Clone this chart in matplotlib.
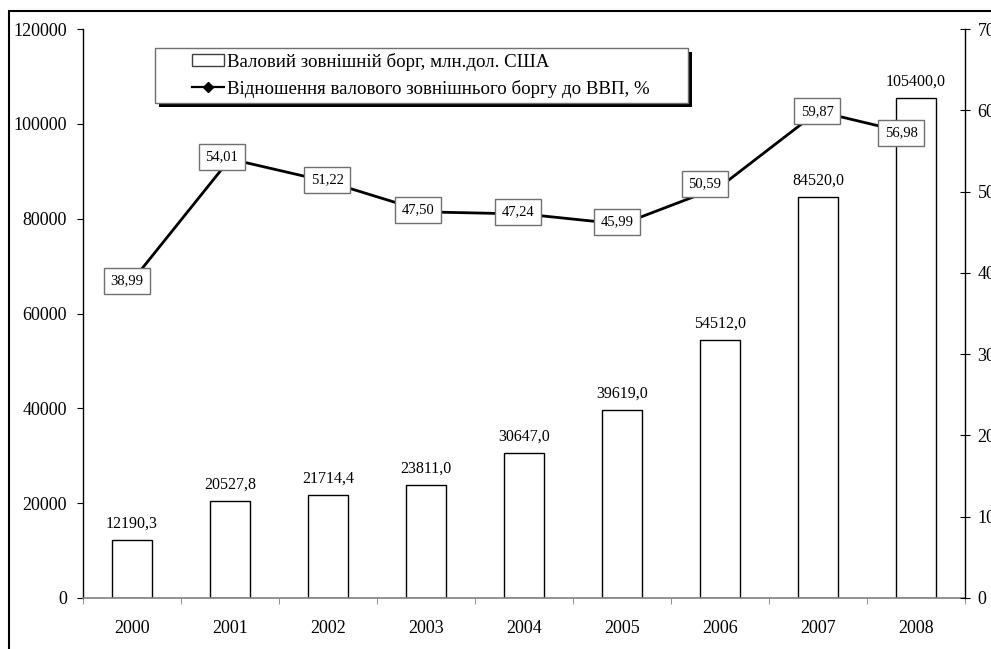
#!/usr/bin/env python

import matplotlib.pyplot as plt
import matplotlib.patches as mpatches
from matplotlib.lines import Line2D
import numpy as np

years = ["2000", "2001", "2002", "2003", "2004", "2005", "2006", "2007", "2008"]
debt = [12190.3, 20527.8, 21714.4, 23811.0, 30647.0, 39619.0, 54512.0, 84520.0, 105400.0]
ratio = [38.99, 54.01, 51.22, 47.50, 47.24, 45.99, 50.59, 59.87, 56.98]

debt_label = "Валовий зовнішній борг, млн.дол. США"
ratio_label = "Відношення валового зовнішнього боргу до ВВП, %"

# label box shifts (pixels) so the boxes sit where they were placed by hand
ratio_shift_x = [-5, -8, -1, -8, -6, -5, -15, -1, -15]
ratio_shift_y = [0, 2, 2, 2, 2, 2, 3, 0, 2]

W, H = 991, 649


def fmt(v, digits):
    return f"{v:.{digits}f}".replace(".", ",")


def px(x, y):
    # pixel position (from top-left) -> figure fraction
    return x / W, 1 - y / H


def main():
    plt.rcParams.update(
        {
            "font.family": ["Liberation Serif", "DejaVu Serif"],
            "font.size": 13,
        }
    )

    fig = plt.figure(figsize=(W / 100, H / 100), dpi=100)
    x0, y0 = px(83, 598)
    x1, y1 = px(965, 29)
    ax = fig.add_axes([x0, y0, x1 - x0, y1 - y0])
    ax2 = ax.twinx()

    x = np.arange(len(years))
    ax.bar(x, debt, width=0.4, color="white", edgecolor="black", linewidth=1.0, zorder=2)
    for xi, v in zip(x, debt):
        ax.annotate(
            fmt(v, 1),
            (xi, v),
            xytext=(0, 6),
            textcoords="offset points",
            ha="center",
            va="bottom",
            fontsize=11.5,
        )

    ax.set_xlim(-0.5, len(years) - 0.5)
    ax.set_ylim(0, 120000)
    ax.set_yticks(np.arange(0, 120001, 20000))
    ax.set_xticks(x)
    ax.set_xticklabels(years)
    ax.set_xticks(np.arange(-0.5, len(years), 1.0), minor=True)
    ax.tick_params(axis="x", which="major", length=0, pad=16)
    ax.tick_params(axis="x", which="minor", length=4.5, direction="out", color="#808080")
    ax.tick_params(axis="y", length=4.5, direction="out", pad=7)

    for s in ["top", "right"]:
        ax.spines[s].set_visible(False)
    ax.spines["bottom"].set_color("#808080")
    ax.spines["bottom"].set_linewidth(1.2)
    ax.spines["left"].set_linewidth(1.0)

    # ratio line on the right axis
    ax2.plot(
        x,
        ratio,
        color="black",
        linewidth=2.0,
        marker="D",
        markersize=5,
        zorder=3,
    )
    for xi, v, dx, dy in zip(x, ratio, ratio_shift_x, ratio_shift_y):
        ax2.annotate(
            fmt(v, 2),
            (xi, v),
            xytext=(dx * 0.72, dy * 0.72),
            textcoords="offset points",
            ha="center",
            va="center",
            fontsize=10.5,
            zorder=5,
            bbox=dict(boxstyle="square,pad=0.45", fc="white", ec="#707070", lw=1.0),
        )
    ax2.set_ylim(0, 70)
    ax2.set_yticks(np.arange(0, 71, 10))
    ax2.tick_params(axis="y", length=7, direction="inout", pad=5.5)
    for s in ["top", "left", "bottom"]:
        ax2.spines[s].set_visible(False)
    ax2.spines["right"].set_linewidth(1.0)

    # legend frame with a dark drop shadow
    lx, ly = px(155, 103)
    lw_, lh_ = 533 / W, 55 / H
    sx, sy = px(159, 107)
    ax2.add_patch(
        mpatches.Rectangle((sx, sy), lw_, lh_, transform=fig.transFigure, clip_on=False,
                           facecolor="black", edgecolor="none", zorder=6)
    )
    ax2.add_patch(
        mpatches.Rectangle((lx, ly), lw_, lh_, transform=fig.transFigure, clip_on=False,
                           facecolor="white", edgecolor="#707070", lw=1.0, zorder=7)
    )
    handles = [
        mpatches.Patch(facecolor="white", edgecolor="#404040", linewidth=1.0),
        Line2D([], [], color="black", lw=1.6, marker="D", markersize=5),
    ]
    leg = ax2.legend(
        handles,
        [debt_label, ratio_label],
        loc="upper left",
        bbox_to_anchor=px(192, 53),
        bbox_transform=fig.transFigure,
        frameon=False,
        fontsize=13.6,
        handlelength=1.7,
        handleheight=0.6,
        handletextpad=0.15,
        labelspacing=0.45,
        borderpad=0.0,
        borderaxespad=0.0,
    )
    leg.set_zorder(8)

    # outer chart border
    bx, by = px(9, 700)
    fig.patches.append(
        mpatches.Rectangle((bx, by), 1.2, (700 - 11) / H, transform=fig.transFigure,
                           facecolor="none", edgecolor="black", lw=1.5, zorder=1)
    )

    plt.savefig("out.png", dpi=100)


if __name__ == "__main__":
    main()
